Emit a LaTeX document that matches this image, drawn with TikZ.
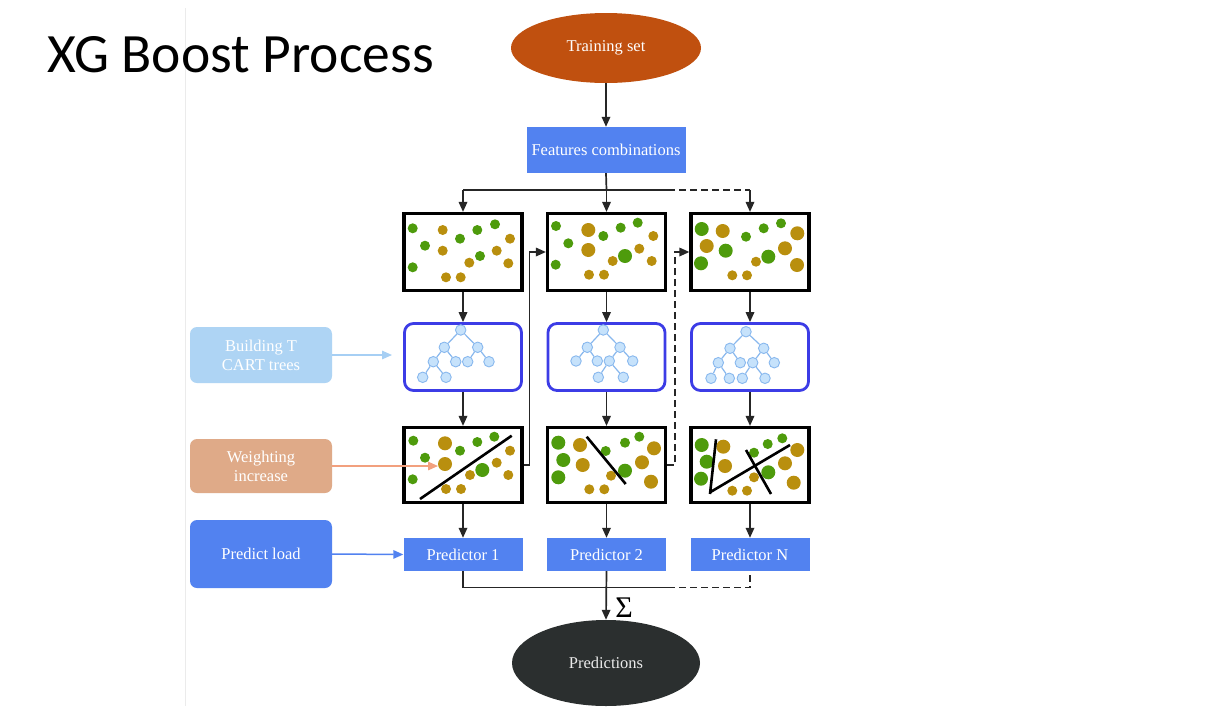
\documentclass[tikz,border=0pt]{standalone}
\usepackage{fontspec}
\setmainfont{Liberation Serif}
\newfontfamily\titlefont{Carlito}
\usetikzlibrary{arrows.meta,shapes.geometric,calc}
\definecolor{tsorange}{HTML}{C0500F}
\definecolor{predblue}{HTML}{5282F0}
\definecolor{treeblue}{HTML}{3C3CE6}
\definecolor{buildblue}{HTML}{AED4F4}
\definecolor{buildarrow}{HTML}{A6CFF4}
\definecolor{weightc}{HTML}{DFAA88}
\definecolor{weightarrow}{HTML}{F2A07E}
\definecolor{darkell}{HTML}{2B2F2F}
\definecolor{cg}{HTML}{4E9B0C}
\definecolor{co}{HTML}{B98F0E}
\definecolor{tnfill}{HTML}{C6E2FB}
\definecolor{tnedge}{HTML}{88B8EE}
\newcommand\myblobs[2]{%
  \begin{scope}[shift={#1}]
    \foreach \c/\x/\y/\r in {#2} \fill[\c] (\x,\y) circle[radius=\r pt];
  \end{scope}}
\begin{document}
\begin{tikzpicture}[x=1pt,y=-1pt,
  lbl/.style={font=\fontsize{16.5}{19}\selectfont, text=white, align=center},
  databox/.style={draw=black, line width=3.2pt, fill=white, minimum width=118pt, minimum height=77pt, inner sep=0},
  treebox/.style={draw=treeblue, line width=2.8pt, rounded corners=9pt, minimum width=117pt, minimum height=67pt, inner sep=0},
  predbox/.style={fill=predblue, minimum width=119pt, minimum height=33pt, inner sep=0, lbl},
  sidebox/.style={rounded corners=7pt, minimum width=142pt, inner sep=0, lbl},
  conn/.style={line width=1.7pt, draw=black!85},
  tip/.style={-{Triangle[length=10pt,width=8.5pt]}},
  arr/.style={conn, tip},
  dsh/.style={dash pattern=on 7pt off 4pt},
  tn/.style={circle, fill=tnfill, draw=tnedge, line width=0.9pt, minimum size=10.5pt, inner sep=0},
  tedge/.style={draw=tnedge, line width=1.2pt},
  cutline/.style={draw=black, line width=2.6pt}
]
\useasboundingbox (0,0) rectangle (1232,710);
\fill[white] (0,0) rectangle (1232,710);
\draw[black!8, line width=1pt] (185,8) -- (185,706);

\node[anchor=base west, inner sep=0, font=\titlefont\fontsize{55.5}{60}\selectfont] (title) at (47,72) {XG Boost Process};

% main flow
\node[ellipse, fill=tsorange, minimum width=190pt, minimum height=70pt, inner sep=0, lbl] (ts) at (606,48) {Training set};
\node[fill=predblue, minimum width=159pt, minimum height=46pt, inner sep=0, lbl] (f) at (606,150) {Features combinations};

\node[databox] (d1) at (463,252) {};
\node[databox] (d2) at (606.5,252) {};
\node[databox] (d3) at (750,252) {};

\node[treebox] (t1) at (463,357) {};
\node[treebox] (t2) at (606.5,357) {};
\node[treebox] (t3) at (750,357) {};

\node[databox, minimum height=75pt] (w1) at (463,465) {};
\node[databox, minimum height=75pt] (w2) at (606.5,465) {};
\node[databox, minimum height=75pt] (w3) at (750,465) {};

\node[predbox] (p1) at (463,554.5) {Predictor 1};
\node[predbox] (p2) at (606.5,554.5) {Predictor 2};
\node[predbox] (p3) at (750,554.5) {Predictor N};

\node[ellipse, fill=darkell, minimum width=188pt, minimum height=86pt, inner sep=0, lbl, text=white!92!black] (pr) at (606,663) {Predictions};
\node[inner sep=0, font=\fontsize{30}{32}\selectfont] (sig) at (624,608) {Σ};

% side labels
\node[sidebox, fill=buildblue, minimum height=56pt] (bt) at (261,355) {Building T\\CART trees};
\node[sidebox, fill=weightc, minimum height=54pt] (wi) at (261,466) {Weighting\\increase};
\node[sidebox, fill=predblue, minimum height=68pt] (pl) at (261,554) {Predict load};
\coordinate (btend) at (392,355);
\coordinate (wiend) at (438,466);
\draw[line width=1.5pt, draw=buildarrow, tip] (bt.east) -- (btend);
\draw[line width=1.5pt, draw=weightarrow, tip] (wi.east) -- (wiend);
\draw[line width=1.5pt, draw=predblue, tip] (pl.east) -- (p1.west);

% connectors top
\coordinate (j) at (606.5,190);
\coordinate (jl) at (463,190);
\coordinate (jm) at (668,190);
\coordinate (jr) at (750,190);
\draw[arr] (ts.south) -- (f.north);
\draw[conn] (f.south) -- (j);
\draw[conn] (jl) -- (jm);
\draw[conn, dsh] (jm) -- (jr);
\draw[arr] (jl) -- (d1.north);
\draw[arr] (j) -- (d2.north);
\draw[arr] (jr) -- (d3.north);

\foreach \i in {1,2,3} {
  \draw[arr] (d\i.south) -- (t\i.north);
  \draw[arr] (t\i.south) -- (w\i.north);
  \draw[arr] (w\i.south) -- (p\i.north);
}

% cross connectors
\draw[arr] (w1.east) -- ++(6,0) |- (d2.west);
\draw[arr, dsh] (w2.east) -- ++(8,0) |- (d3.west);

% bottom connectors
\coordinate (bl) at (463,587.5);
\coordinate (bm) at (668,587.5);
\coordinate (br) at (750,587.5);
\draw[conn] (p1.south) -- (bl) -- (bm);
\draw[conn, dsh] (bm) -- (br) -- (p3.south);
\draw[arr] (p2.south) -- (pr.north);

% dots in data boxes
\myblobs{(403,213)}{cg/9.7/15.3/5, co/39.7/17/5, cg/74.3/17/5, cg/92/11.3/5, cg/22/32.7/5, cg/57/25.7/5, co/107/25.7/5, co/39.7/37.7/5, co/93.7/37.7/5, cg/77/43/5, co/66.3/49.7/5, co/105.3/50.3/5, cg/9.7/54.3/5, co/43/64.3/5, co/57.7/64.3/5}
\myblobs{(546,212)}{cg/10/14/5, co/42.3/18/7, cg/57.3/24/5, cg/74.7/15.7/5, cg/91.7/10.7/5, co/107.3/24/5, cg/22.3/31.3/5, co/42.3/38/7, co/93.3/36.7/5, cg/79/44/7, co/66.7/49/5, co/105.7/49/5, cg/9.7/52.7/5, co/43/62.7/5, co/58/62.7/5}
\myblobs{(689,212)}{cg/12.7/17/7, co/33.7/19/7, cg/57/24.7/5, cg/74.7/16.3/5, cg/92/11.3/5, co/108.3/21.3/7, co/17.7/34/7, cg/36.7/38.7/7, co/96/36.3/7, cg/79.3/44.7/7, co/67/49.7/5, co/108/53/7, cg/12/51.3/7, co/43.3/63.3/5, co/58/63.3/5}

\myblobs{(402,426)}{cg/11.3/14.7/5, co/43/17.3/7, cg/58/24.7/5, cg/75.3/16/5, cg/92.3/10.7/5, co/108/24.7/5, cg/23/31.7/5, co/43/38/7, co/94.7/36.7/5, cg/80.3/44/7, co/68/49/5, co/106.3/49/5, cg/10.7/53.3/5, co/44/63/5, co/59/63/5}
\myblobs{(546,426)}{cg/12.3/16.7/7, co/34/19/7, cg/59.7/25/5, cg/79/16.7/5, cg/93.3/10.7/5, co/108/22.3/7, cg/17.3/34/7, co/36.7/39/7, co/96/36.3/7, cg/79/44.7/7, co/65/49.7/5, co/105/55.7/7, cg/12.3/51.3/7, co/43.3/63.3/5, co/58.3/63.3/5}
\myblobs{(689,426)}{cg/12.7/19/7, co/34.3/20.7/7, cg/65/26.7/5, cg/78.7/18/5, cg/93.3/12.3/5, co/108.3/24/7, cg/17.7/35.7/7, co/36/40/7, co/96/37.3/7, cg/79.3/46.3/7, co/65/51.3/5, co/104.7/56.7/7, cg/12/52.7/7, co/43.3/64.7/5, co/58/64.7/5}

% separating lines
\begin{scope}[shift={(402,426)}]
  \draw[cutline] (18,73) -- (109.7,9.7);
\end{scope}
\begin{scope}[shift={(546,426)}]
  \draw[cutline] (40.7,10.7) -- (79.7,58);
\end{scope}
\begin{scope}[shift={(689,426)}]
  \draw[cutline] (27,13.3) -- (21,68);
  \draw[cutline] (21,66.3) -- (101,19);
  \draw[cutline] (57,24) -- (82,68);
\end{scope}

% tree 1
\node[tn] (ar) at (460.7,330) {};
\node[tn] (aa) at (444.3,347.3) {};
\node[tn] (ab) at (477.7,347.3) {};
\node[tn] (ac) at (433.3,361.7) {};
\node[tn] (ad) at (455.7,361.7) {};
\node[tn] (ae) at (467.7,361.7) {};
\node[tn] (af) at (489,361.7) {};
\node[tn] (ag) at (422.7,377.3) {};
\node[tn] (ah) at (446,377.3) {};
\draw[tedge] (ar) -- (aa) (ar) -- (ab) (aa) -- (ac) (aa) -- (ad) (ab) -- (ae) (ab) -- (af) (ac) -- (ag) (ac) -- (ah);
% tree 2
\node[tn] (br0) at (603.3,330) {};
\node[tn] (ba) at (587.3,347.3) {};
\node[tn] (bb) at (620,347.3) {};
\node[tn] (bc) at (576,361) {};
\node[tn] (bd) at (597.3,361) {};
\node[tn] (be) at (609.3,361) {};
\node[tn] (bf) at (632.7,361) {};
\node[tn] (bg) at (598.3,377.3) {};
\node[tn] (bh) at (623.3,377.3) {};
\draw[tedge] (br0) -- (ba) (br0) -- (bb) (ba) -- (bc) (ba) -- (bd) (bb) -- (be) (bb) -- (bf) (be) -- (bg) (be) -- (bh);
% tree 3
\node[tn] (cr) at (746,331.7) {};
\node[tn] (ca) at (730,348.3) {};
\node[tn] (cb) at (763.7,348.3) {};
\node[tn] (cc) at (718.3,362.7) {};
\node[tn] (cd) at (740.3,362.7) {};
\node[tn] (ce) at (752.7,362.7) {};
\node[tn] (cf) at (774.3,362.7) {};
\node[tn] (cgg) at (711,378.3) {};
\node[tn] (ch) at (729.3,378.3) {};
\node[tn] (ci) at (742.3,378.3) {};
\node[tn] (ck) at (765,378.3) {};
\draw[tedge] (cr) -- (ca) (cr) -- (cb) (ca) -- (cc) (ca) -- (cd) (cb) -- (ce) (cb) -- (cf) (cc) -- (cgg) (cc) -- (ch) (ce) -- (ci) (ce) -- (ck);
\end{tikzpicture}
\end{document}
